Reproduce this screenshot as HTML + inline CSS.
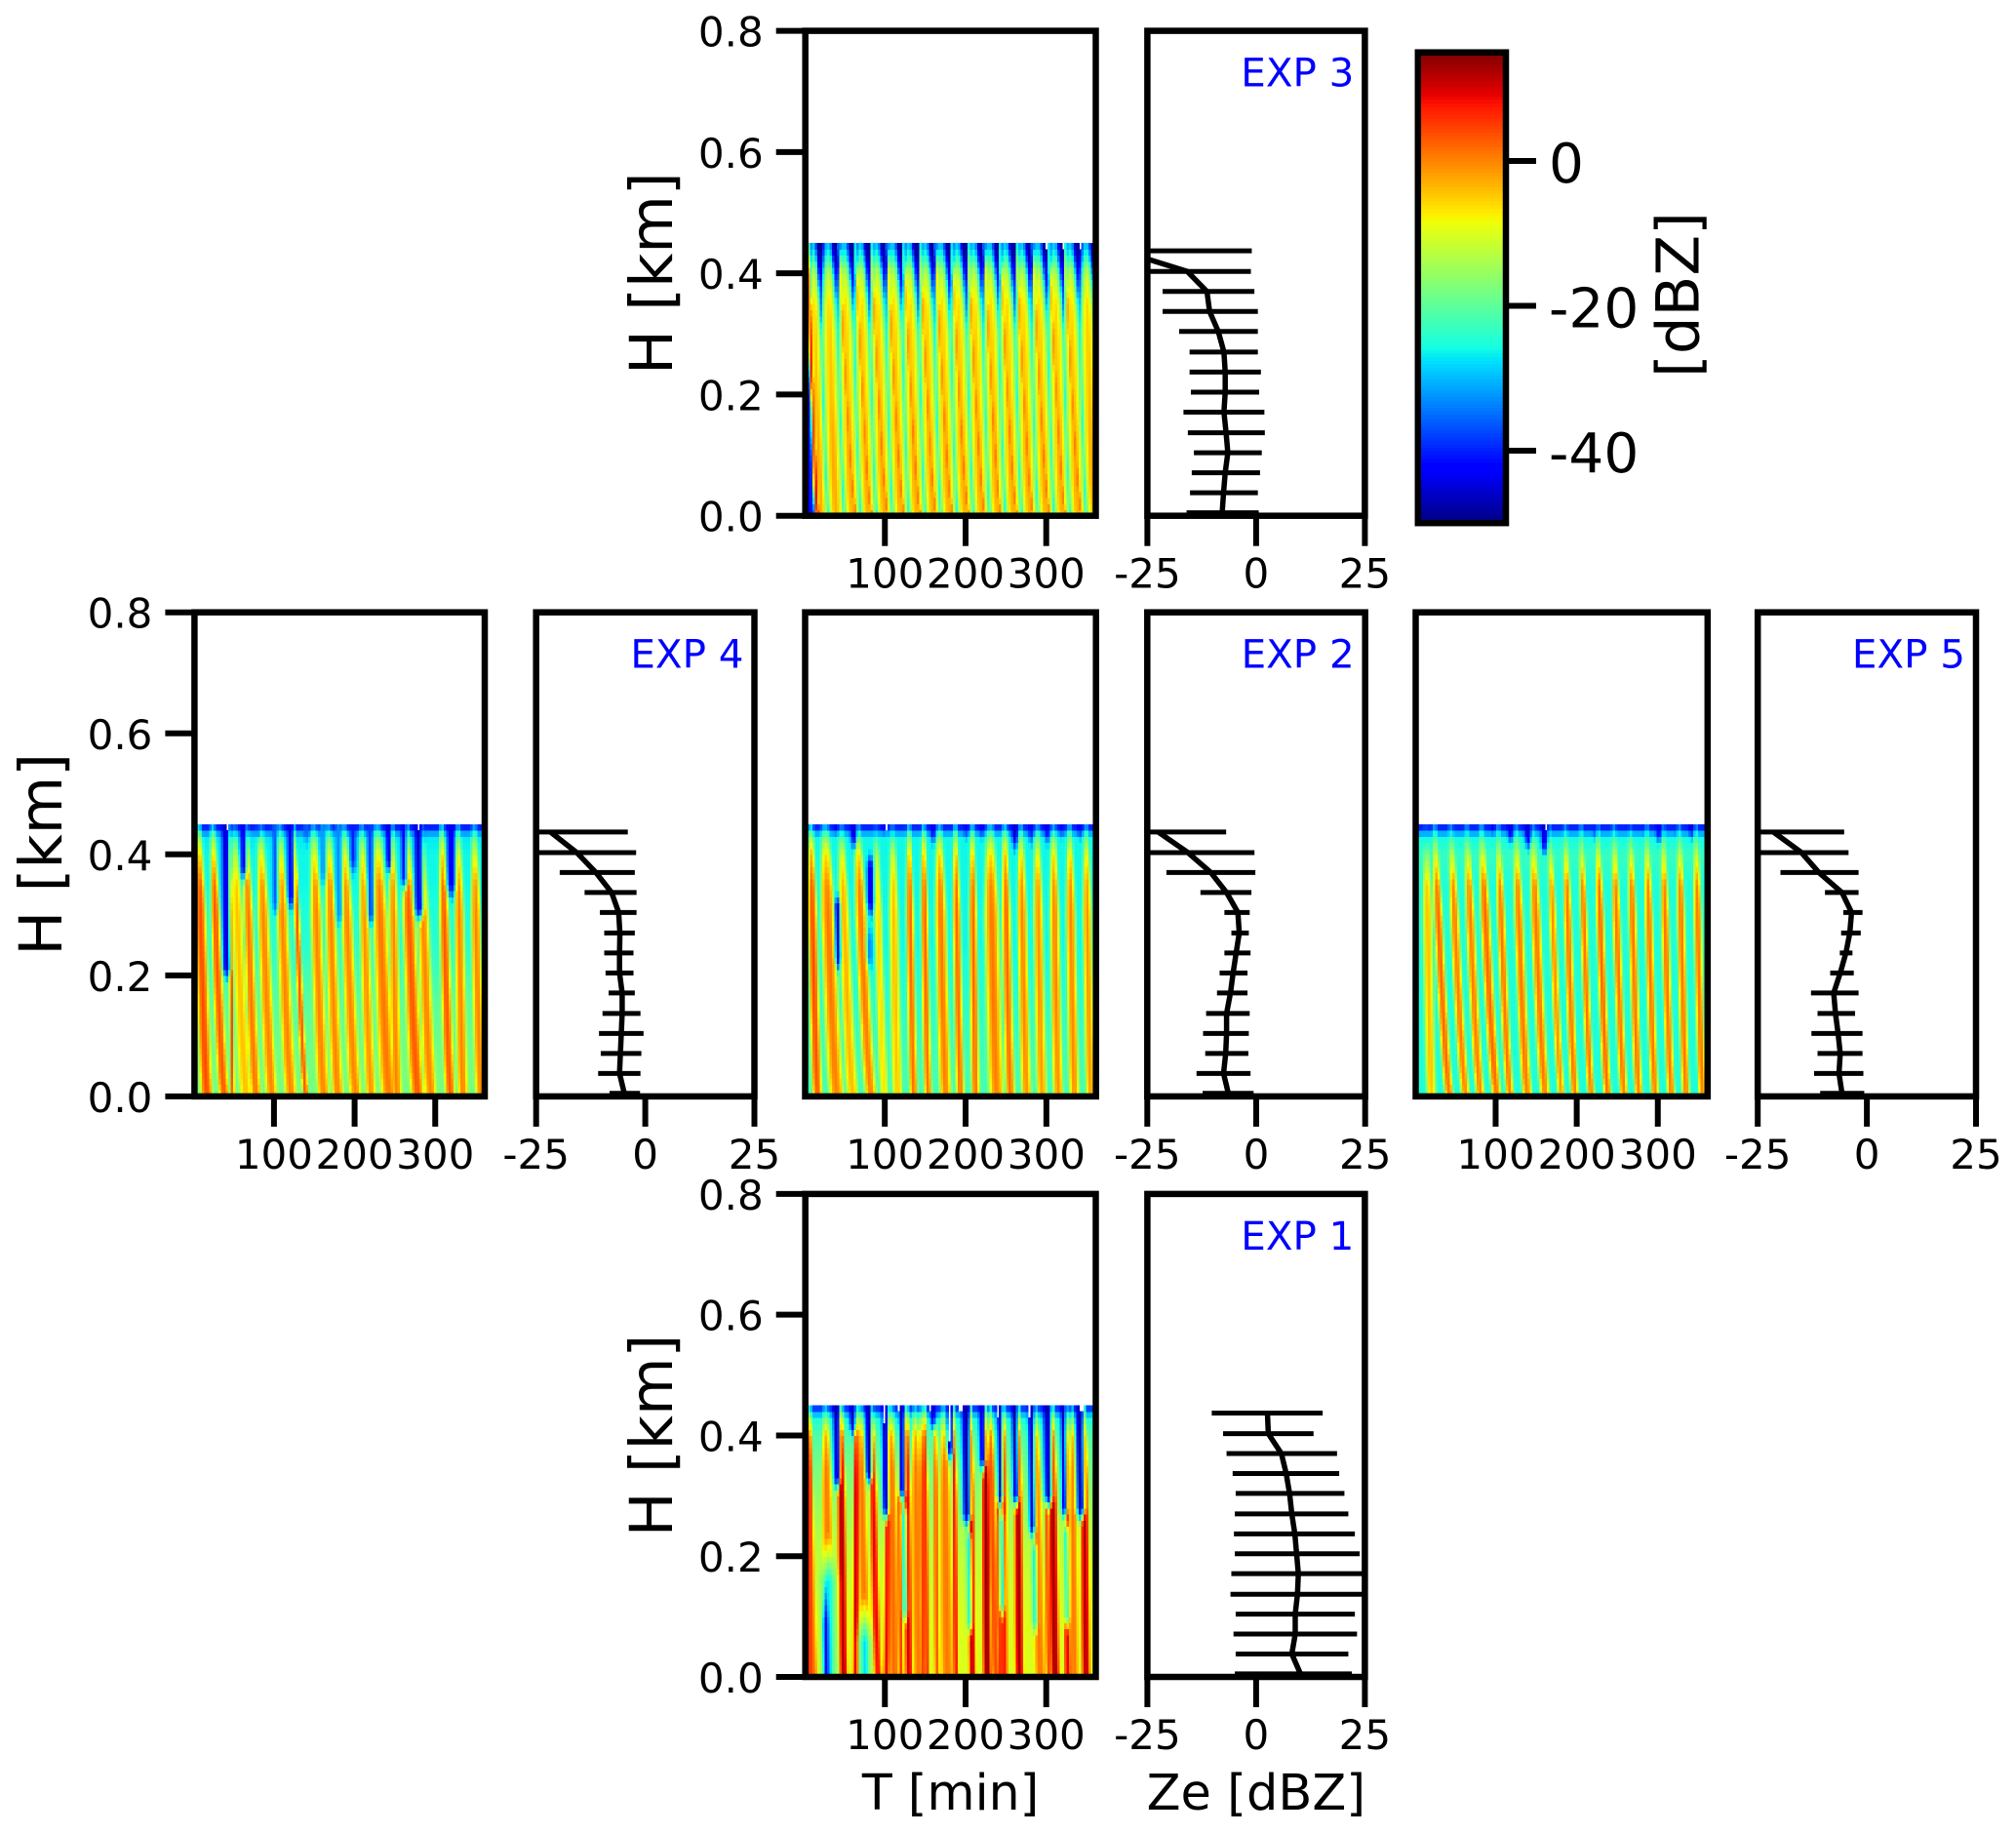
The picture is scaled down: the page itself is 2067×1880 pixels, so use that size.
<!DOCTYPE html>
<html lang="en">
<head>
<meta charset="utf-8">
<title>Radar reflectivity experiments</title>
<style>
html,body{margin:0;padding:0;background:#fff;}
svg{display:block;}
text{font-family:"DejaVu Sans","Liberation Sans",sans-serif;fill:#000;}
</style>
</head>
<body>
<svg id="chart" xmlns="http://www.w3.org/2000/svg" width="2067" height="1880" viewBox="0 0 2067 1880">
<rect x="0" y="0" width="2067" height="1880" fill="#ffffff"/>
</svg>
<script>
/* ---------- shared tick labels and levels ---------- */
const heightTicks = [0, 0.2, 0.4, 0.6, 0.8];
const timeTicks = [100, 200, 300];
const zeTicks = [-25, 0, 25];
const colorbarTicks = [0, -20, -40];
const profileHeights = [0.005,0.038,0.071,0.104,0.137,0.171,0.204,0.237,0.27,0.304,0.337,0.37,0.403,0.437];
const fieldLevels = [0,0.05,0.1,0.15,0.2,0.25,0.3,0.35,0.4,0.43,0.45];

/* ---------- EXP 3 ---------- */
const exp3Mean = [-7.8,-7.5,-7.1,-6.5,-6.9,-7.4,-7.1,-7.1,-7.4,-8.7,-10.7,-11.3,-15.8,-31];
const exp3Low = [-16,-15.2,-14.8,-14.3,-15.7,-16.7,-15,-15.3,-15.3,-17.7,-21.5,-21.5,-30,-40];
const exp3High = [0.6,0.4,0.9,1.3,2,1.9,0.7,1.1,0.4,0.4,0.4,-0.4,-1.2,-1];
const exp3Trough = [-38,-37,-36,-36,-36,-36,-37,-39,-44,-48,-49];
const exp3Crest = [-3,-2.5,-2.5,-3,-4,-4.5,-5,-6,-12,-24,-30];
/* streak: time at top, time at bottom, dBZ above crest, half-width in min */
const exp3Streaks = [[6,17,11,3.5],[12,22,0,8],[30,40,0,10.5],[50,60,0,10.5],[70,80,0,10.5],[90,100,0,10.5],[110,120,0,10.5],[130,140,0,10.5],[150,160,0,10.5],[170,180,0,10.5],[190,200,0,10.5],[210,220,0,10.5],[230,240,0,10.5],[250,260,0,10.5],[270,280,0,10.5],[290,300,0,10.5],[310,320,0,10.5],[330,340,0,10.5],[350,360,0,10.5],[45,64,3,3.5],[65,84,3,3.5],[85,104,3,3.5],[105,124,3,3.5],[125,144,3,3.5],[145,164,3,3.5],[165,184,3,3.5],[185,204,3,3.5],[205,224,3,3.5],[225,244,3,3.5],[245,264,3,3.5],[265,284,3,3.5],[285,304,3,3.5],[305,324,3,3.5],[325,344,3,3.5]];
/* hole: time at top, lowest km, highest km, dBZ, half-width in min */
const exp3Holes = [[3.4,0,0.26,-42,3]];
const exp3Gaps = [[301,0.44,1.5],[321,0.44,1.5],[341,0.44,1.5]];

/* ---------- EXP 4 ---------- */
const exp4Mean = [-4.8,-5.9,-5.7,-5.5,-5.3,-5.3,-5.9,-5.9,-5.8,-6.1,-7.7,-11.3,-15.7,-21.7];
const exp4Low = [-8.2,-10.8,-10.2,-10.6,-9.8,-8.4,-9.1,-9.4,-9.4,-10.4,-13.9,-19.6,-30,-40];
const exp4High = [-1.2,-1.1,-0.9,-0.4,-1.1,-2.4,-2.7,-2.7,-2.4,-2,-2,-2.4,-2.1,-4];
const exp4Trough = [-18,-18,-19,-20,-22,-24,-25,-26,-26,-27,-44];
const exp4Crest = [-3,-3,-3,-3,-3,-3,-3,-4,-12,-22,-38];
const exp4Streaks = [[7,17,7,7],[25,39,6,6],[46,49,7,2.5],[52,66,-1,7],[66,78,4,6],[84,98,3,7],[108,122,3,7],[126,140,6,3.5],[150,162,3,7],[168,180,3,7],[188,202,3,7],[210,221,2,6],[229,243,4,9],[247,253,3,6],[265,279,6,8],[283,295,3,7],[309,319,6,6],[329,335,3,6],[349,357,3,6]];
const exp4Holes = [[39.5,0.185,0.45,-46,3.5],[61.6,0.348,0.45,-44,3],[81,0.42,0.45,-38,3],[101,0.29,0.45,-36,3],[120,0.3,0.45,-44,3],[140,0.41,0.45,-36,3],[160,0.34,0.45,-32,3],[180,0.27,0.45,-33,3],[198,0.36,0.45,-40,3],[219,0.27,0.45,-38,3],[241.6,0.36,0.45,-46,2.5],[261,0.33,0.45,-42,3],[279,0.28,0.45,-46,4],[319,0.32,0.45,-44,4]];
const exp4Gaps = [[41,0.44,1.5],[279,0.44,1.5]];

/* ---------- EXP 2 ---------- */
const exp2Mean = [-6.4,-7.5,-7,-6.8,-6.8,-5.9,-5.3,-4.6,-3.9,-4.2,-6.8,-10.4,-15.7,-22.5];
const exp2Low = [-12.3,-13.7,-11.7,-12.2,-11.5,-9,-8.4,-7.3,-5.7,-7.3,-12.8,-20.6,-30,-40];
const exp2High = [-0.6,-1.3,-1.8,-1.7,-1.5,-2,-2,-1.3,-1.7,-1.5,-1.1,-0.2,-0.4,-6.9];
const exp2Trough = [-22,-22,-23,-24,-25,-26,-26,-26,-26,-26,-44];
const exp2Crest = [-4,-3.5,-3.5,-3,-3,-3,-3,-4,-10,-21,-38];
const exp2Streaks = [[9,17,7,6],[27,41,4,9],[47,61,0,7],[67.6,83.7,4,7],[90,100,-3,5],[110,116,-1,6],[130,136,5,5],[148,154,5,5],[168,176,4,7],[188,194,5,5],[208.5,212.6,5,5],[230.7,238.7,4,9],[249,256,5,6],[269,276,3,6],[289,295,2,6],[309,315,3,6],[329,335,3,6],[349.5,355.5,2,6]];
const exp2Holes = [[39.5,0.43,0.45,-46,3],[61.6,0.4,0.45,-46,3],[81.7,0.29,0.41,-46,3],[80,0.2,0.29,-33,3],[40,0.2,0.345,-46,2.5],[98,0.43,0.45,-46,3],[160,0.41,0.45,-44,3],[200,0.42,0.45,-42,3],[220,0.42,0.45,-44,3],[261,0.4,0.45,-46,3],[281,0.41,0.45,-42,3],[301,0.41,0.45,-44,3],[319,0.42,0.45,-42,2.5],[341,0.42,0.45,-44,3]];
const exp2Gaps = [[101,0.44,1.5]];

/* ---------- EXP 5 ---------- */
const exp5Mean = [-5.7,-6.4,-6.1,-6.6,-7.2,-7.6,-6.1,-4.8,-3.9,-3.5,-5.7,-11,-15,-21.4];
const exp5Low = [-10.7,-12.1,-11.3,-12.7,-11.3,-12.8,-8.4,-6.2,-5.9,-5.4,-9.6,-19.8,-30,-40];
const exp5High = [-0.6,-0.8,-1,-1,-2.7,-1.9,-3,-3.3,-1.4,-1,-1.9,-1.9,-4.2,-5.2];
const exp5Trough = [-25,-25,-25,-25,-25,-25,-25,-25,-23,-26,-44];
const exp5Crest = [-2,-1,-1,-1,-1,-1,-1,-2,-14,-24,-38];
const exp5Streaks = [[15,21,-3,6],[26,43.5,3,5.5],[46,63.6,1.5,5.5],[65.6,81.7,1.5,5.5],[83.7,101.8,3,6],[103.9,118,2,5],[126,140,2,6],[147,162,2,6],[168,182,0,4.5],[187,198.5,2,5],[206.5,218.6,2,4.5],[226.7,238.7,3,5],[246.8,258.9,2,5],[266.9,277,2,5],[287,297,2,5],[307,317,2,5],[327,335,2,5],[347.4,355.5,2,5]];
const exp5Holes = [[96,0.43,0.45,-45,3],[118,0.41,0.45,-45,3],[140,0.4,0.45,-46,3],[160,0.39,0.45,-46,3],[222.6,0.42,0.45,-40,3],[265,0.43,0.45,-44,3],[283,0.43,0.45,-40,2.5],[301,0.41,0.45,-44,3],[321,0.43,0.45,-40,2.5],[341,0.42,0.45,-46,3]];
const exp5Gaps = [[162,0.44,1.5]];

/* ---------- EXP 1 ---------- */
const exp1Mean = [10.2,8.2,9,9,9.5,9.7,9.3,8.9,8.2,7.7,6.9,5.8,2.8,2.6];
const exp1Low = [-4.9,-4.7,-5.2,-4.7,-5.9,-5.7,-4.9,-5.1,-4.9,-4.7,-5.4,-6.8,-7.6,-10.2];
const exp1High = [22,21.2,23.2,22.7,25.5,25.5,23.8,22.7,21.2,20.3,19.1,18.6,13.2,15.3];
const exp1Trough = [-10,-10,-10,-11,-12,-14,-16,-18,-21,-25,-42];
const exp1Crest = [-2,-2,-2,-2,-2,-2,-2,-2,-6,-20,-36];
const exp1Streaks = [[7,7,9,4],[45.5,48.7,15,5],[64.4,63.6,14,3.5],[84.5,91.8,11,4.5],[104,102,11,3.5],[127,130,12,4.5],[146,148,7,4],[186,188.4,10,3],[206.5,208.5,14,4],[224.6,226.7,16,5],[247,248,10,4.5],[265,267,15,5],[307,311,15,5.5],[325,327,11,4],[347,349.5,14,5],[118,120,7,3],[150,152,8,3],[163,165,5,3],[240,243,8,3],[300,303,6,3],[27,33,3,6],[70,78,3,6],[108,112,4,6],[138,142,3,6],[174,178,3,7],[231,238,6,5],[287,293,3,6],[333,335,3,5],[5,12,4,5]];
const exp1Holes = [[39.5,0.3,0.45,-48,3],[59.6,0.39,0.45,-46,3],[79.7,0.31,0.45,-48,3],[99.8,0.25,0.45,-48,3],[120,0.28,0.45,-46,3],[160,0.4,0.45,-46,3],[180,0.35,0.45,-46,3],[200,0.24,0.45,-48,4],[220,0.33,0.45,-46,3],[241.6,0.27,0.45,-46,3],[261,0.27,0.45,-48,3],[281,0.22,0.45,-46,3],[301,0.27,0.45,-48,4],[321,0.25,0.45,-46,3],[341.4,0.25,0.45,-48,4],[28,0,0.24,-27,7],[24,0,0.17,-44,2.5],[72,0,0.14,-28,6],[122,0.08,0.3,-26,2.5],[202,0.06,0.26,-26,2.5],[243,0.09,0.29,-26,2.5],[283,0.06,0.24,-26,2.5],[323,0.07,0.27,-26,2.5]];
const exp1Gaps = [[100,0.424,1.5],[118,0.44,1.5],[156,0.44,1.5],[180,0.39,1.5],[194.5,0.44,3],[238.7,0.43,1.5],[279,0.435,1.5],[343.4,0.44,3]];

/* ---------- colorbar range ---------- */
const colorbarMin = -50;
const colorbarMax = 15;

/* ---------- panels ---------- */
const panels = [
 {id:'exp3',label:'EXP 3',hl:825.7,hr:1123.5,pl:1176.4,pr:1399.4,top:31.6,bot:528.7,mean:exp3Mean,low:exp3Low,high:exp3High,trough:exp3Trough,crest:exp3Crest,streaks:exp3Streaks,holes:exp3Holes,gaps:exp3Gaps,ylabX:689,xlabels:false},
 {id:'exp4',label:'EXP 4',hl:199.4,hr:497,pl:549.7,pr:773.5,top:627.7,bot:1123.9,mean:exp4Mean,low:exp4Low,high:exp4High,trough:exp4Trough,crest:exp4Crest,streaks:exp4Streaks,holes:exp4Holes,gaps:exp4Gaps,ylabX:63,xlabels:false},
 {id:'exp2',label:'EXP 2',hl:825.5,hr:1123.7,pl:1176.3,pr:1399.7,top:627.7,bot:1123.9,mean:exp2Mean,low:exp2Low,high:exp2High,trough:exp2Trough,crest:exp2Crest,streaks:exp2Streaks,holes:exp2Holes,gaps:exp2Gaps,ylabX:null,xlabels:false},
 {id:'exp5',label:'EXP 5',hl:1451.5,hr:1750.8,pl:1802.2,pr:2026,top:627.7,bot:1123.9,mean:exp5Mean,low:exp5Low,high:exp5High,trough:exp5Trough,crest:exp5Crest,streaks:exp5Streaks,holes:exp5Holes,gaps:exp5Gaps,ylabX:null,xlabels:false},
 {id:'exp1',label:'EXP 1',hl:825.7,hr:1123.5,pl:1176.4,pr:1399.4,top:1223.9,bot:1719,mean:exp1Mean,low:exp1Low,high:exp1High,trough:exp1Trough,crest:exp1Crest,streaks:exp1Streaks,holes:exp1Holes,gaps:exp1Gaps,ylabX:689,xlabels:true}
];

const svg = document.getElementById('chart');
const NS = 'http://www.w3.org/2000/svg';
function mk(tag, attrs, parent){
  const e = document.createElementNS(NS, tag);
  for(const k in attrs){ e.setAttribute(k, attrs[k]); }
  (parent || svg).appendChild(e);
  return e;
}
const jetR = [[0,0],[0.35,0],[0.66,1],[0.89,1],[1,0.5]];
const jetG = [[0,0],[0.125,0],[0.375,1],[0.64,1],[0.91,0],[1,0]];
const jetB = [[0,0.5],[0.11,1],[0.34,1],[0.65,0],[1,0]];
function seg(tab, f){
  for(let i=1;i<tab.length;i++){
    if(f<=tab[i][0]){
      const a=tab[i-1], b=tab[i];
      return a[1]+(b[1]-a[1])*(f-a[0])/(b[0]-a[0]);
    }
  }
  return tab[tab.length-1][1];
}
function jet(v){
  const f = Math.max(0,Math.min(1,(v-colorbarMin)/(colorbarMax-colorbarMin)));
  const r=Math.round(255*seg(jetR,f)), g=Math.round(255*seg(jetG,f)), b=Math.round(255*seg(jetB,f));
  return 'rgb('+r+','+g+','+b+')';
}
function atLevel(vals,h){
  for(let i=1;i<fieldLevels.length;i++){
    if(h<=fieldLevels[i]){
      const u=(h-fieldLevels[i-1])/(fieldLevels[i]-fieldLevels[i-1]);
      return vals[i-1]+(vals[i]-vals[i-1])*u;
    }
  }
  return vals[vals.length-1];
}
function fieldValue(p,t,h){
  const bg=atLevel(p.trough,h), crest=atLevel(p.crest,h);
  const taper = h<0.3 ? 1 : 1-(h-0.3)/0.15*0.45;
  const bend = Math.pow(h/0.4,0.7);
  let v=bg;
  for(const s of p.streaks){
    const c=s[1]+(s[0]-s[1])*bend;
    const d=Math.abs(t-c)/(s[3]*taper);
    const k=0.85*Math.exp(-d*d*d*d)+0.15*Math.exp(-(d/0.45)*(d/0.45));
    v=Math.max(v,bg+(crest+s[2]-bg)*k);
  }
  for(const o of p.holes){
    if(h<o[1]||h>o[2]) continue;
    const fLow=o[1]>0?Math.min(1,(h-o[1])/0.03):1;
    const fadeHigh=o[1]===0?0.08:0.03;
    const fHigh=o[2]<0.45?Math.min(1,(o[2]-h)/fadeHigh):1;
    const f=Math.min(fLow,fHigh);
    const c=o[0]+(0.45-h)*8;
    const d=Math.abs(t-c)/(1.25*o[4]*Math.sqrt(Math.max(f,0.05)));
    v=v+(o[3]-v)*f*Math.exp(-d*d);
  }
  return v;
}
function isGap(p,t,h){
  for(const g of p.gaps){
    if(h>=g[1]&&Math.abs(t-g[0])<=g[2]) return true;
  }
  return false;
}

const tMin = 1.4, tMax = 361.4, cellMinutes = 3, cellKm = 0.01;

panels.forEach(function(p){
  const xT = function(t){ return p.hl+(t-tMin)*(p.hr-p.hl)/(tMax-tMin); };
  const xZ = function(z){ return p.pl+(z+25)*(p.pr-p.pl)/50; };
  const yH = function(h){ return p.bot-h*(p.bot-p.top)/0.8; };

  /* heatmap */
  const heat = mk('g',{'shape-rendering':'crispEdges'});
  
  
  for(let t=tMin;t<tMax-0.01;t+=cellMinutes){
    for(let h=0;h<0.4499;h+=cellKm){
      const tc=t+cellMinutes/2, hc=h+cellKm/2;
      if(isGap(p,tc,hc)) continue;
      const cell = mk('rect',{x:xT(t).toFixed(1),y:yH(h+cellKm).toFixed(1),width:(xT(t+cellMinutes)-xT(t)+0.7).toFixed(1),height:(yH(h)-yH(h+cellKm)+0.7).toFixed(1),fill:jet(fieldValue(p,tc,hc))},heat);
      
      
    }
  }

  /* heatmap frame */
  const frameA = mk('rect',{x:p.hl,y:p.top,width:p.hr-p.hl,height:p.bot-p.top,fill:'none',stroke:'#000','stroke-width':6.5});
  
  

  /* profile clip */
  const cid='clip-'+p.id;
  const cp=mk('clipPath',{id:cid});
  mk('rect',{x:p.pl,y:p.top,width:p.pr-p.pl,height:p.bot-p.top+3},cp);

  /* error bars */
  const prof = mk('g',{'clip-path':'url(#'+cid+')'});
  
  
  profileHeights.forEach(function(h,i){
    const bar = mk('line',{x1:xZ(p.low[i]),x2:xZ(p.high[i]),y1:yH(h),y2:yH(h),stroke:'#000','stroke-width':5},prof);
    
    
  });
  const d = profileHeights.map(function(h,i){ return (i?'L':'M')+xZ(p.mean[i]).toFixed(1)+' '+yH(h).toFixed(1); }).join(' ');
  const meanLine = mk('path',{d:d,fill:'none',stroke:'#000','stroke-width':5.5,'stroke-linejoin':'round'},prof);
  
  

  /* profile frame */
  const frameB = mk('rect',{x:p.pl,y:p.top,width:p.pr-p.pl,height:p.bot-p.top,fill:'none',stroke:'#000','stroke-width':6.5});
  
  

  /* height ticks (only on panels with a height axis) */
  if(p.ylabX!==null){
    heightTicks.forEach(function(h){
      const tk = mk('line',{x1:p.hl-30,x2:p.hl,y1:yH(h),y2:yH(h),stroke:'#000','stroke-width':6});
      
      
      const lb = mk('text',{x:p.hl-43,y:yH(h)+16,'text-anchor':'end','font-size':42});
      lb.textContent = h.toFixed(1);
      
      
    });
  }

  /* time ticks */
  timeTicks.forEach(function(t){
    const tk = mk('line',{x1:xT(t),x2:xT(t),y1:p.bot,y2:p.bot+31,stroke:'#000','stroke-width':6});
    
    
    const lb = mk('text',{x:xT(t),y:p.bot+74,'text-anchor':'middle','font-size':42});
    lb.textContent = String(t);
    
    
  });

  /* Ze ticks */
  zeTicks.forEach(function(z){
    const tk = mk('line',{x1:xZ(z),x2:xZ(z),y1:p.bot,y2:p.bot+31,stroke:'#000','stroke-width':6});
    
    
    const lb = mk('text',{x:xZ(z),y:p.bot+74,'text-anchor':'middle','font-size':42});
    lb.textContent = String(z);
    
    
  });

  /* experiment label */
  const ex = mk('text',{x:p.pr-11,y:p.top+57,'text-anchor':'end','font-size':40.4,style:'fill:#0000ff'});
  ex.textContent = p.label;
  
  

  /* axis titles */
  if(p.ylabX!==null){
    const cy=(p.top+p.bot)/2;
    const yl = mk('text',{x:p.ylabX,y:cy,'text-anchor':'middle','font-size':61,transform:'rotate(-90 '+p.ylabX+' '+cy+')'});
    yl.textContent = 'H [km]';
    
    
  }
  if(p.xlabels){
    const xl = mk('text',{x:(p.hl+p.hr)/2,y:1855,'text-anchor':'middle','font-size':50.5});
    xl.textContent = 'T [min]';
    
    
    const zl = mk('text',{x:(p.pl+p.pr)/2,y:1855,'text-anchor':'middle','font-size':51});
    zl.textContent = 'Ze [dBZ]';
    
    
  }
});

/* ---------- colorbar ---------- */
const cbLeft=1453.8, cbRight=1544, cbTop=53.7, cbBot=536.2;
const cbY=function(v){ return cbBot-(v-colorbarMin)*(cbBot-cbTop)/(colorbarMax-colorbarMin); };
const cbGroup = mk('g',{'shape-rendering':'crispEdges'});


for(let v=colorbarMin;v<colorbarMax;v+=0.5){
  const st = mk('rect',{x:cbLeft,y:cbY(v+0.5).toFixed(1),width:cbRight-cbLeft,height:(cbY(v)-cbY(v+0.5)+0.8).toFixed(1),fill:jet(v+0.25)},cbGroup);
  
  
}
const cbFrame = mk('rect',{x:cbLeft,y:cbTop,width:cbRight-cbLeft,height:cbBot-cbTop,fill:'none',stroke:'#000','stroke-width':6.5});


colorbarTicks.forEach(function(v){
  const tk = mk('line',{x1:cbRight,x2:cbRight+31,y1:cbY(v),y2:cbY(v),stroke:'#000','stroke-width':6});
  
  
  const lb = mk('text',{x:1588,y:cbY(v)+22,'font-size':56.5});
  lb.textContent = String(v);
  
  
});
const cbTitle = mk('text',{x:1741.5,y:302,'text-anchor':'middle','font-size':61,transform:'rotate(-90 1741.5 302)'});
cbTitle.textContent = '[dBZ]';


</script>
</body>
</html>
